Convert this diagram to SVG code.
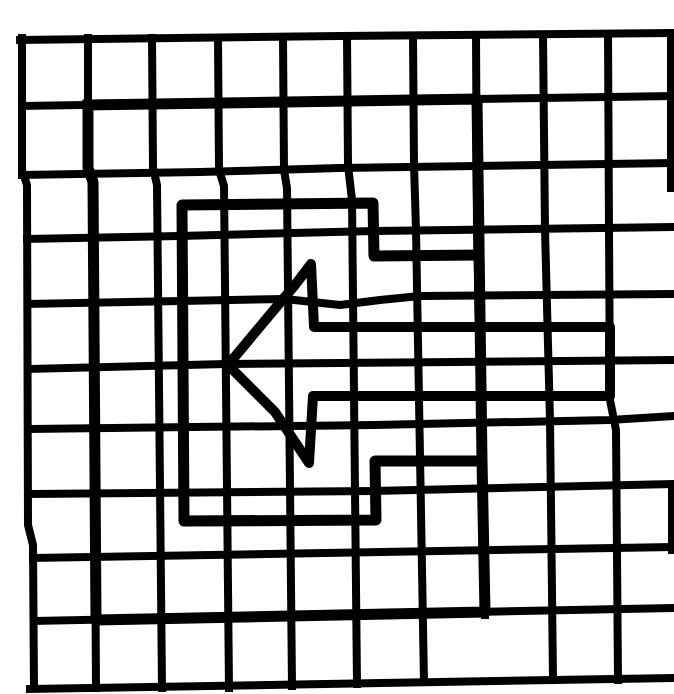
<svg xmlns="http://www.w3.org/2000/svg" width="674" height="694" viewBox="0 0 674 694">
<style>
.g{fill:none;stroke:#000;stroke-width:8;stroke-linejoin:round;stroke-linecap:square}
.b{fill:none;stroke:#000;stroke-width:11;stroke-linejoin:round;stroke-linecap:square}
.a{fill:none;stroke:#000;stroke-width:10;stroke-linejoin:round;stroke-linecap:round}
</style>
<rect width="674" height="694" fill="#fff"/>
<g id="grid">
<polyline class="g" points="22,38 22,170 27,185 28,525 33,545 34,688"/>
<polyline class="g" points="88,38 88,168 93,182 96,688"/>
<polyline class="g" points="152,38 153,168 157,185 162,688"/>
<polyline class="g" points="218,38 219,170 224,186 229,688"/>
<polyline class="g" points="283,38 284,170 287,188 292,686"/>
<polyline class="g" points="347,37 348,165 352,200 357,684"/>
<polyline class="g" points="413,36 414,165 416,230 424,682"/>
<polyline class="g" points="476,35 477,230 482,460 485,615"/>
<polyline class="g" points="543,35 545,230 550,420 553,680"/>
<polyline class="g" points="608,34 609,230 610,400 616,430 618,680"/>
<polyline class="g" points="671,33 671,188"/>
<polyline class="g" points="672,485 672,550"/>
<polyline class="g" points="20,40 340,36 674,33"/>
<polyline class="g" points="22,106 340,101 674,96"/>
<polyline class="g" points="22,175 200,172 340,168 674,163"/>
<polyline class="g" points="27,239 180,236 374,231 674,227"/>
<polyline class="g" points="28,304 180,301 285,299 340,305 380,300 420,296 674,294"/>
<polyline class="g" points="30,369 226,364 674,360"/>
<polyline class="g" points="30,429 374,425 610,420 674,416"/>
<polyline class="g" points="32,494 374,491 674,484"/>
<polyline class="g" points="33,558 674,547"/>
<polyline class="g" points="34,621 674,608"/>
<polyline class="g" points="30,689 674,678"/>
</g>
<g id="outer-box">
<polyline class="b" points="88,105 477,99 482,460 485,612 96,620 93,182 88,168 88,105"/>
</g>
<g id="inner-box">
<polyline class="b" points="478,255 374,256 373,203 182,205 184,521 376,520 375,461 481,461"/>
</g>
<g id="arrow">
<polygon class="a" points="228,365 273,311 295,285 311,264 314,327 610,327 610,396 313,396 309,463 275,412"/>
</g>
</svg>
